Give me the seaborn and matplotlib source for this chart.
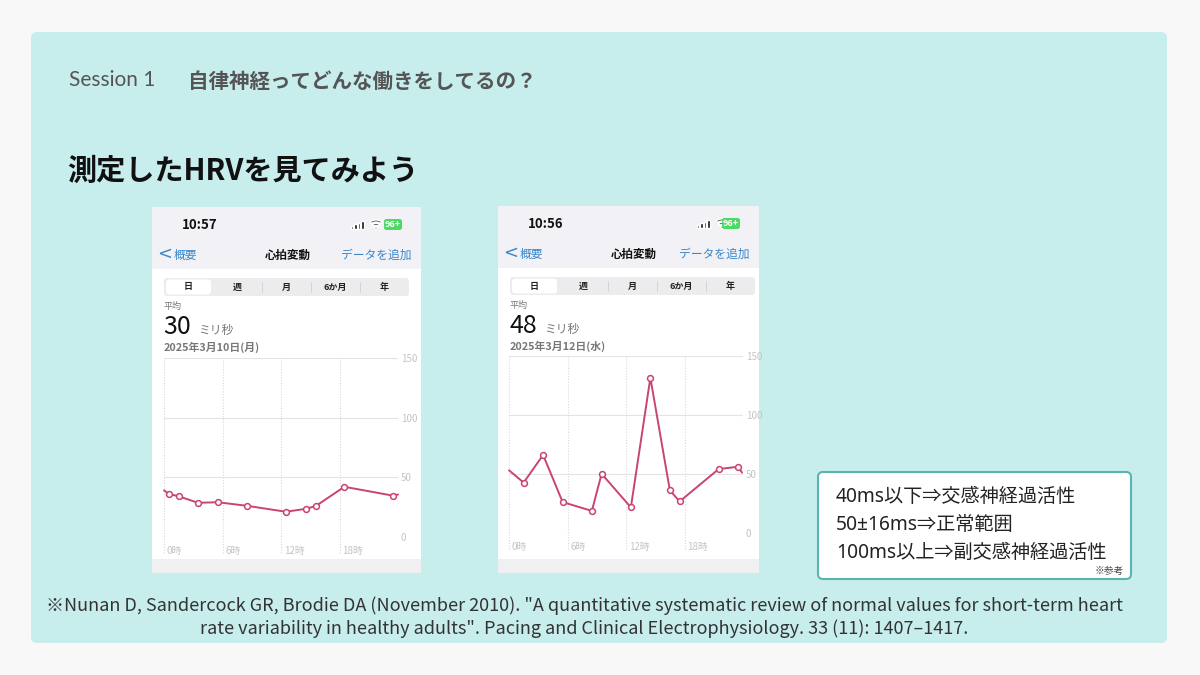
import matplotlib
matplotlib.use("Agg")
import matplotlib.pyplot as plt
from matplotlib.patches import FancyBboxPatch, Rectangle, Wedge
import seaborn as sns

# === Data ===
left_hours = [0, 0.5, 1.5, 3.5, 5.5, 8.5, 12.5, 14.6, 15.6, 18.5, 23.5, 24]
left_hrv = [39, 36, 34, 28.5, 29, 26, 21, 23.5, 26, 42, 34.5, 35.5]

right_hours = [0, 1.5, 3.5, 5.5, 8.5, 9.5, 12.5, 14.5, 16.5, 17.5, 21.5, 23.5, 23.9]
right_hrv = [53, 42.5, 66, 26, 18.5, 50, 21.5, 131.5, 36, 26.5, 54, 56, 51]

y_ticks = [0, 50, 100, 150]
x_ticks = [0, 6, 12, 18]
x_tick_labels = ["0時", "6時", "12時", "18時"]
segments = ["日", "週", "月", "6か月", "年"]

ranges = ["40ms以下⇒交感神経過活性", "50±16ms⇒正常範囲", "100ms以上⇒副交感神経過活性"]
reference = ('※Nunan D, Sandercock GR, Brodie DA (November 2010). "A quantitative systematic review of normal values for short-term heart\n'
             'rate variability in healthy adults". Pacing and Clinical Electrophysiology. 33 (11): 1407–1417.')

# === Setup ===
sns.set_theme(style="white")
plt.rcParams["font.family"] = ["Noto Sans CJK JP", "DejaVu Sans"]

LINE = "#c9456d"
BLUE = "#3a86c8"
GRID = "#e4e4e4"

fig = plt.figure(figsize=(12, 6.75), dpi=100)
fig.patch.set_facecolor("#f8f8f8")

# background axes in pixel coordinates (y grows downwards)
bg = fig.add_axes([0, 0, 1, 1])
bg.set_xlim(0, 1200)
bg.set_ylim(675, 0)
bg.axis("off")

bg.add_patch(FancyBboxPatch((31, 32), 1136, 611, boxstyle="round,pad=0,rounding_size=6",
                            facecolor="#c8eded", edgecolor="none"))

bg.text(69, 80, "Session 1", fontsize=15, color="#555555", va="center",
        family=["Lato", "DejaVu Sans"])
bg.text(188, 81, "自律神経ってどんな働きをしてるの？", fontsize=14.8, color="#555555",
        va="center", fontweight="bold")
bg.text(67, 171, "測定したHRVを見てみよう", fontsize=21, color="#111111",
        va="center", fontweight="bold")


def draw_phone(x0, y0, w, h, time, avg, date):
    bg.add_patch(Rectangle((x0, y0), w, h, facecolor="white", edgecolor="none"))
    bg.add_patch(Rectangle((x0, y0), w, 62, facecolor="#f2f2f6", edgecolor="none"))
    bg.add_patch(Rectangle((x0, y0 + h - 14), w, 14, facecolor="#f0f0f2", edgecolor="none"))

    # status bar
    bg.text(x0 + 30, y0 + 18, time, fontsize=9.5, fontweight="bold", color="#111111", va="center")
    for i in range(4):
        bh = 3 + i * 1.6
        bg.add_patch(Rectangle((x0 + 199 + i * 3.4, y0 + 22 - bh), 2.3, bh, facecolor="#111111"))
    cx, cy = x0 + 224, y0 + 23
    bg.add_patch(Wedge((cx, cy), 10, 235, 305, width=2, facecolor="#111111"))
    bg.add_patch(Wedge((cx, cy), 6.5, 235, 305, width=2, facecolor="#111111"))
    bg.add_patch(Wedge((cx, cy), 3, 235, 305, facecolor="#111111"))
    bg.add_patch(FancyBboxPatch((x0 + w - 37, y0 + 12), 18, 11, boxstyle="round,pad=0,rounding_size=2.5",
                                facecolor="#4cd964", edgecolor="none"))
    bg.text(x0 + w - 28, y0 + 17.5, "96+", fontsize=6.5, color="white", ha="center", va="center",
            fontweight="bold")

    # navigation bar
    bg.text(x0 + 5, y0 + 47, "<", fontsize=13, color=BLUE, va="center", family=["DejaVu Sans"])
    bg.text(x0 + 22, y0 + 48, "概要", fontsize=8.5, color=BLUE, va="center")
    bg.text(x0 + 136, y0 + 48, "心拍変動", fontsize=8.3, color="#111111", va="center",
            ha="center", fontweight="bold")
    bg.text(x0 + w - 10, y0 + 48, "データを追加", fontsize=8.5, color=BLUE, va="center", ha="right")

    # segmented control
    bg.add_patch(FancyBboxPatch((x0 + 12, y0 + 71), 245, 18, boxstyle="round,pad=0,rounding_size=3",
                                facecolor="#ececee", edgecolor="none"))
    bg.add_patch(FancyBboxPatch((x0 + 14, y0 + 72.5), 45, 15, boxstyle="round,pad=0,rounding_size=3",
                                facecolor="white", edgecolor="none"))
    for i, s in enumerate(segments):
        bg.text(x0 + 36.5 + 49 * i, y0 + 80, s, fontsize=6.5, color="#222222",
                ha="center", va="center", fontweight="bold")
        if i > 1:
            bg.plot([x0 + 12 + 49 * i] * 2, [y0 + 75, y0 + 85], color="#d0d0d4", lw=0.6)

    bg.text(x0 + 12, y0 + 99, "平均", fontsize=6.5, color="#777777", va="center")
    bg.text(x0 + 11, y0 + 120, avg, fontsize=18, color="#111111", va="center")
    bg.text(x0 + 46, y0 + 123, "ミリ秒", fontsize=8.5, color="#777777", va="center")
    bg.text(x0 + 12, y0 + 140, date, fontsize=7.8, color="#777777", va="center", fontweight="bold")


draw_phone(152, 207, 269, 366, "10:57", "30", "2025年3月10日(月)")
draw_phone(498, 206, 261, 367, "10:56", "48", "2025年3月12日(水)")


def draw_chart(rect, hours, hrv):
    ax = fig.add_axes(rect)
    ax.set_facecolor("none")
    sns.lineplot(x=hours, y=hrv, ax=ax, color=LINE, lw=1.4, marker="o", markersize=4.2,
                 markerfacecolor="white", markeredgecolor=LINE, markeredgewidth=1.1,
                 markevery=list(range(1, len(hours) - 1)), clip_on=False, zorder=5)
    ax.set_xlim(0, 24)
    ax.set_ylim(0, 150)
    for v in y_ticks:
        ax.axhline(v, color=GRID, lw=0.8, zorder=1)
    for v in x_ticks:
        ax.axvline(v, ymin=-0.09, ymax=1, color="#d8d8d8", lw=0.8, ls=(0, (1, 1.5)),
                   clip_on=False, zorder=1)
    ax.axvline(24, color=GRID, lw=0.8, zorder=1)
    ax.set_xticks(x_ticks)
    ax.set_xticklabels([])
    for v, lab in zip(x_ticks, x_tick_labels):
        ax.text(v + 0.3, -12, lab, fontsize=7, color="#c4c4c4", ha="left", va="center")
    ax.set_yticks(y_ticks)
    ax.yaxis.tick_right()
    ax.tick_params(axis="y", length=0, labelsize=7, labelcolor="#c4c4c4", pad=2)
    ax.tick_params(axis="x", length=0)
    ax.set_xlabel("")
    ax.set_ylabel("")
    sns.despine(ax=ax, left=True, bottom=True, right=True, top=True)
    return ax


draw_chart([164 / 1200, 1 - 536.7 / 675, 234 / 1200, 178.3 / 675], left_hours, left_hrv)
draw_chart([509 / 1200, 1 - 532.7 / 675, 234 / 1200, 176.7 / 675], right_hours, right_hrv)

# reference ranges box
bg.add_patch(FancyBboxPatch((818, 472), 313, 107, boxstyle="round,pad=0,rounding_size=5",
                            facecolor="white", edgecolor="#5ab5b0", lw=1.5))
for i, line in enumerate(ranges):
    bg.text(836, 497 + 28 * i, line, fontsize=13.8, color="#222222", va="center",
            family=["Noto Sans", "Noto Sans CJK JP", "DejaVu Sans"])
bg.text(1124, 571, "※参考", fontsize=7, color="#444444", ha="right", va="center")

# citation
bg.text(584, 617, reference, fontsize=13, color="#333333", ha="center", va="center",
        linespacing=1.3)

fig.savefig("out.png", dpi=100, facecolor=fig.get_facecolor())
